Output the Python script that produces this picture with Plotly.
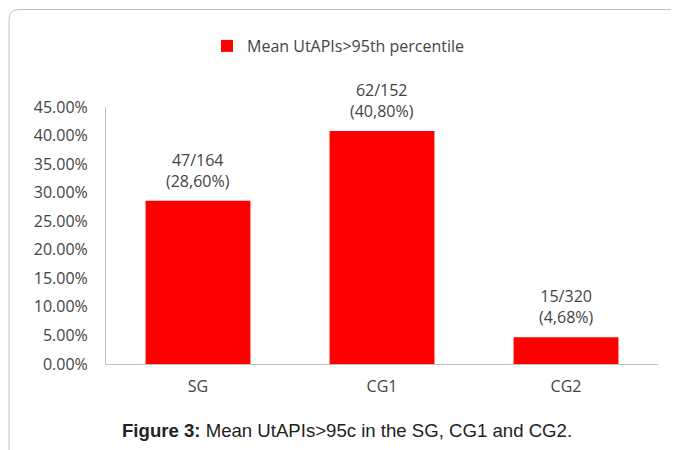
import plotly.graph_objects as go

categories = ["SG", "CG1", "CG2"]
values = [28.60, 40.80, 4.68]
counts = ["47/164", "62/152", "15/320"]
pct_labels = ["(28,60%)", "(40,80%)", "(4,68%)"]
y_ticks = [0, 5, 10, 15, 20, 25, 30, 35, 40, 45]
y_tick_labels = ["%.2f%%" % v for v in y_ticks]
series_name = "Mean UtAPIs>95th percentile"
caption = "<b>Figure 3:</b> Mean UtAPIs>95c in the SG, CG1 and CG2."

# page body has an 8px margin; the figure is sized/positioned to compensate
OFF = 8
W, H = 679 - OFF, 450 - OFF
L, R, T, B = 106 - OFF, 21, 107 - OFF, 86
pw, ph = W - L - R, H - T - B

def px_x(px):  # px in window coordinates
    return (px - OFF - L) / pw

def px_y(py):
    return (H - B - (py - OFF)) / ph

txt = "#444444"
font_main = "Open Sans"
fs = 16

fig = go.Figure()
fig.add_trace(go.Bar(
    x=categories, y=values, name=series_name,
    marker=dict(color="#ff0000", line=dict(width=0)),
    showlegend=True,
))

for c, v, a, b in zip(categories, values, counts, pct_labels):
    fig.add_annotation(x=c, y=v, xref="x", yref="y", text=a + "<br>" + b,
                       showarrow=False, yanchor="bottom", yshift=7,
                       font=dict(family=font_main, size=fs, color=txt))

fig.add_annotation(x=px_x(347), y=px_y(430), xref="paper", yref="paper",
                   text=caption, showarrow=False, xanchor="center", yanchor="middle",
                   font=dict(family="Liberation Sans", size=18.6, color="#222222"))

# outer rounded frame
x0, y0, r = 9, 9.5, 10
path = ("M {a},{b} L {a},{c} Q {a},{d} {e},{d} L {f},{d}").format(
    a=px_x(x0), b=px_y(470), c=px_y(y0 + r), d=px_y(y0), e=px_x(x0 + r), f=px_x(700))
fig.add_shape(type="path", path=path, xref="paper", yref="paper",
              line=dict(color="#c0c0c0", width=1))

fig.update_layout(
    width=W, height=H,
    margin=dict(l=L, r=R, t=T, b=B, autoexpand=False),
    paper_bgcolor="white", plot_bgcolor="white",
    bargap=0.43,
    font=dict(family=font_main, size=fs, color=txt),
    legend=dict(orientation="h", x=px_x(207), y=px_y(46), xanchor="left", yanchor="middle",
                font=dict(family=font_main, size=fs, color=txt), itemwidth=30,
                bgcolor="rgba(0,0,0,0)"),
    xaxis=dict(showline=True, linecolor="#bfbfbf", linewidth=1, showgrid=False,
               ticks="", ticklabelstandoff=8, tickfont=dict(size=fs, color=txt)),
    yaxis=dict(range=[0, 45], tickvals=y_ticks, ticktext=y_tick_labels,
               showline=True, linecolor="#bfbfbf", linewidth=1, showgrid=False,
               zeroline=False, ticks="", ticklabelstandoff=14,
               tickfont=dict(size=fs, color=txt)),
)

fig.write_html("out.html")
